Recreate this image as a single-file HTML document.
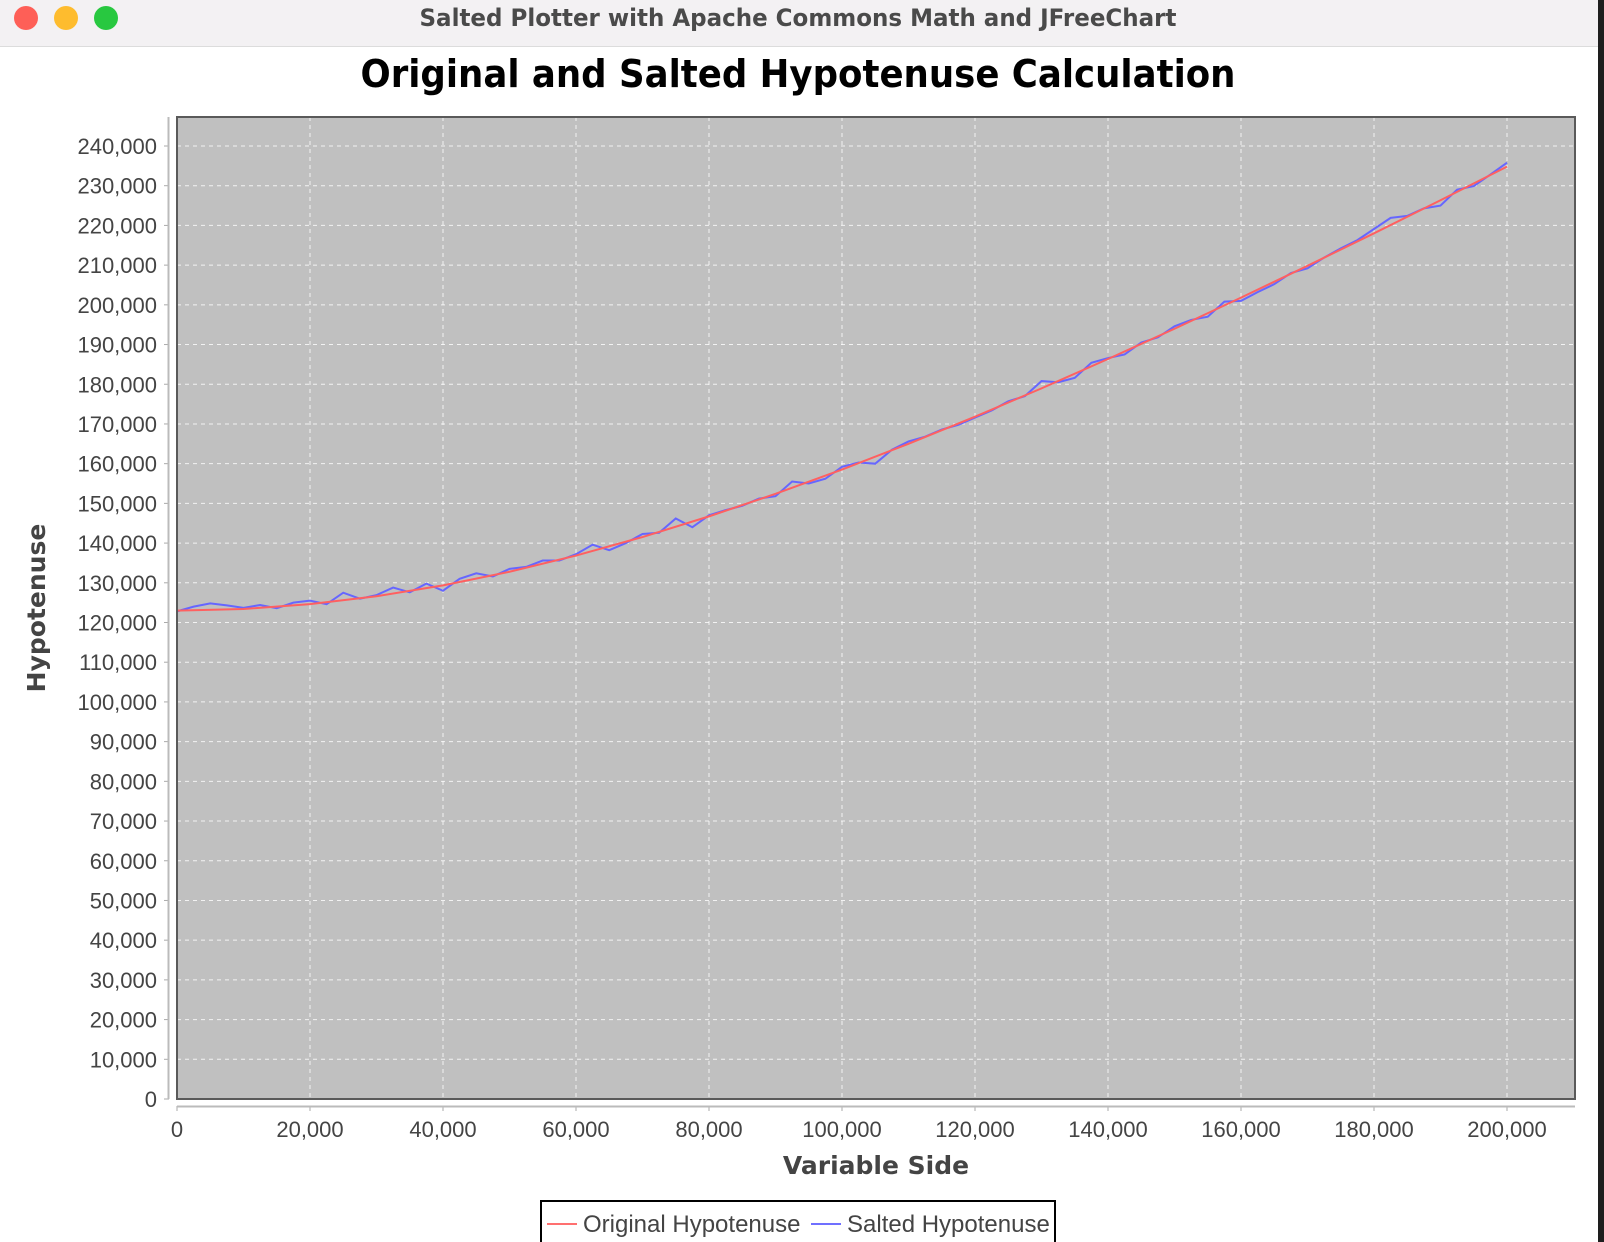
<!DOCTYPE html>
<html><head><meta charset="utf-8"><style>
html,body{margin:0;padding:0;width:1604px;height:1242px;overflow:hidden;background:#fff}
svg{display:block}
</style></head><body>
<svg id="chart" width="1604" height="1242" viewBox="0 0 1604 1242" xmlns="http://www.w3.org/2000/svg" font-family="'DejaVu Sans','Liberation Sans',sans-serif">
  <rect x="0" y="0" width="1604" height="1242" fill="#ffffff"/>
  <rect x="1598" y="0" width="6" height="1242" fill="#1e1e1e"/>
  <g>
    <rect x="0" y="0" width="1598" height="46" fill="#f3f1f3"/>
    <line x1="0" y1="46.5" x2="1598" y2="46.5" stroke="#dcdcdc"/>
    <circle cx="26" cy="18" r="12" fill="#fe5f57"/>
    <circle cx="66" cy="18" r="12" fill="#febc2e"/>
    <circle cx="106" cy="18" r="12" fill="#28c840"/>
    <text x="798" y="26" text-anchor="middle" font-size="24" font-weight="bold" fill="#4a4a4a" textLength="757" lengthAdjust="spacingAndGlyphs">Salted Plotter with Apache Commons Math and JFreeChart</text>
  </g>
  <text x="798" y="87" text-anchor="middle" font-size="38" font-weight="bold" fill="#000" textLength="875" lengthAdjust="spacingAndGlyphs">Original and Salted Hypotenuse Calculation</text>
  <rect x="177" y="117" width="1398" height="982" fill="#c0c0c0"/>
  <g id="grid"></g>
  <g id="series"></g>
  <rect x="177" y="117" width="1398" height="982" fill="none" stroke="#5a5a5a" stroke-width="2"/>
  <g id="axes" font-family="'Liberation Sans',sans-serif"></g>
  <text x="876" y="1167" text-anchor="middle" dominant-baseline="middle" font-size="25" font-weight="bold" fill="#444">Variable Side</text>
  <text transform="translate(38,608) rotate(-90)" text-anchor="middle" dominant-baseline="middle" font-size="25" font-weight="bold" fill="#444">Hypotenuse</text>
  <g font-family="'Liberation Sans',sans-serif">
    <rect x="541" y="1201" width="514" height="50" fill="#fff" stroke="#000" stroke-width="2"/>
    <g>
      <line x1="547" y1="1224" x2="577" y2="1224" stroke="#ff7070" stroke-width="2"/>
      <text x="583" y="1232" font-size="24" fill="#444">Original Hypotenuse</text>
    </g>
    <g>
      <line x1="811" y1="1224" x2="841" y2="1224" stroke="#7070ff" stroke-width="2"/>
      <text x="847" y="1232" font-size="24" fill="#444">Salted Hypotenuse</text>
    </g>
  </g>
</svg>
<script>
const xOriginal = [0,10000,20000,30000,40000,50000,60000,70000,80000,90000,100000,110000,120000,130000,140000,150000,160000,170000,180000,190000,200000];
const yOriginal = [123000,123406,124615,126606,129341,132775,136854,141524,146728,152411,158521,165008,171840,178964,186357,193979,201814,209830,218012,226338,234800];
const xSalted = [0,2500,5000,7500,10000,12500,15000,17500,20000,22500,25000,27500,30000,32500,35000,37500,40000,42500,45000,47500,50000,52500,55000,57500,60000,62500,65000,67500,70000,72500,75000,77500,80000,82500,85000,87500,90000,92500,95000,97500,100000,102500,105000,107500,110000,112500,115000,117500,120000,122500,125000,127500,130000,132500,135000,137500,140000,142500,145000,147500,150000,152500,155000,157500,160000,162500,165000,167500,170000,172500,175000,177500,180000,182500,185000,187500,190000,192500,195000,197500,200000];
const ySalted = [122800,124000,124800,124300,123700,124400,123600,125000,125500,124600,127500,126000,126900,128800,127600,129800,128000,131000,132400,131600,133500,134000,135600,135600,137200,139600,138200,140000,142300,142600,146200,144000,147000,148300,149400,151200,151800,155500,155000,156200,159200,160300,160000,163500,165600,166800,168600,169800,171600,173400,175700,177000,180800,180500,181600,185400,186600,187500,190500,191800,194600,196200,197000,200800,201000,203200,205200,208000,209200,211900,214200,216300,219100,221900,222400,224300,225000,229000,229900,232800,235800];
const xTicks = [0,20000,40000,60000,80000,100000,120000,140000,160000,180000,200000];
const yTicks = [0,10000,20000,30000,40000,50000,60000,70000,80000,90000,100000,110000,120000,130000,140000,150000,160000,170000,180000,190000,200000,210000,220000,230000,240000];

const NS = 'http://www.w3.org/2000/svg';
const X0 = 177, XR = 1575, YB = 1099, YT = 117;
function sx(v){ return X0 + v / 200000 * 1330; }
function sy(v){ return YB - v / 240000 * (YB - 146); }
function mk(tag, attrs, parent){
  const e = document.createElementNS(NS, tag);
  for (const k in attrs) e.setAttribute(k, attrs[k]);
  parent.appendChild(e);
  return e;
}
const fmt = v => v.toLocaleString('en-US');
const grid = document.getElementById('grid');
const axes = document.getElementById('axes');
const series = document.getElementById('series');

xTicks.forEach(v => {
  const x = sx(v);
  if (v > 0) {
    const g = mk('line', {x1:x, y1:YT, x2:x, y2:YB, stroke:'#ffffff', 'stroke-width':1, 'stroke-dasharray':'4,4', opacity:0.8}, grid);
    
    
  }
  mk('line', {x1:x, y1:1106, x2:x, y2:1111, stroke:'#aaa'}, axes);
  const t = mk('text', {x:x, y:1137, 'text-anchor':'middle', 'font-size':22, fill:'#444'}, axes);
  t.textContent = fmt(v);
  
  
});
mk('line', {x1:X0, y1:1106.5, x2:XR, y2:1106.5, stroke:'#bbb', 'stroke-width':2}, axes);

yTicks.forEach(v => {
  const y = sy(v);
  if (v > 0) {
    const g = mk('line', {x1:X0, y1:y, x2:XR, y2:y, stroke:'#ffffff', 'stroke-width':1, 'stroke-dasharray':'4,4', opacity:0.8}, grid);
    
    
  }
  mk('line', {x1:164, y1:y, x2:169, y2:y, stroke:'#aaa'}, axes);
  const t = mk('text', {x:157, y:y + 8, 'text-anchor':'end', 'font-size':22, fill:'#444'}, axes);
  t.textContent = fmt(v);
  
  
});
mk('line', {x1:168.5, y1:YT, x2:168.5, y2:YB, stroke:'#bbb', 'stroke-width':2}, axes);

const pSalt = mk('polyline', {points: xSalted.map((x,i) => sx(x) + ',' + sy(ySalted[i])).join(' '), fill:'none', stroke:'#6666ff', 'stroke-width':2}, series);


const pOrig = mk('polyline', {points: xOriginal.map((x,i) => sx(x) + ',' + sy(yOriginal[i])).join(' '), fill:'none', stroke:'#ff6060', 'stroke-width':2}, series);


</script>
</body></html>
